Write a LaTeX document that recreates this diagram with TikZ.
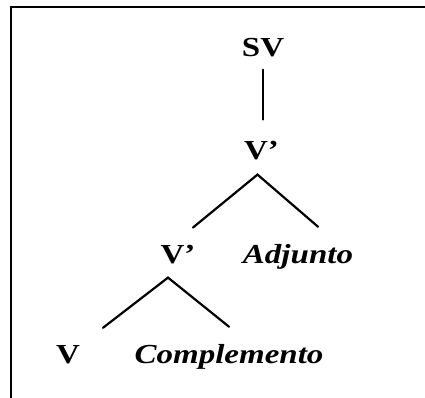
\documentclass[tikz,border=0pt]{standalone}
\usepackage{fontspec}
\setmainfont{Liberation Serif}[FakeStretch=1.2]
\usepackage{tikz}
\usetikzlibrary{positioning,calc}
\tikzset{branch/.style={line width=2.2pt,line cap=round},
  cat/.style={font=\bfseries\fontsize{27.5}{30}\selectfont,inner sep=0pt,anchor=base},
  catit/.style={cat,font=\bfseries\itshape\fontsize{27.5}{30}\selectfont},
  frame/.style={line width=1.4pt}}

\begin{document}
\begin{tikzpicture}[x=1pt,y=-1pt]
  \useasboundingbox (0,0) rectangle (425,398);
  % frame
  \draw[frame] (11,398) -- (11,7) -- (425,7);
  % SV
  \node[cat] (sv) at (263,57) {SV};
  \node[cat] (vp1) at (261.5,160) {V’};
  \draw[branch,shorten <=12pt,shorten >=22pt] (sv.south) -- (sv.south |- vp1.north);
  % V' -> V' Adjunto
  \node[cat] (vp2) at (178,263) {V’};
  \node[catit] (adj) at (298,263) {Adjunto};
  \coordinate (k1) at ($(vp1.south)+(-4,14)$);
  \draw[branch] ($(vp2.north)+(15,-17)$) -- (k1) -- ($(adj.north)+(20,-17)$);
  % V' -> V Complemento
  \node[cat] (v) at (68,363) {V};
  \node[catit] (comp) at (229,363) {Complemento};
  \coordinate (k2) at ($(vp2.south)+(-10,14)$);
  \draw[branch] ($(v.north)+(35,-17)$) -- (k2) -- ($(comp.north)+(0,-17)$);
\end{tikzpicture}
\end{document}
